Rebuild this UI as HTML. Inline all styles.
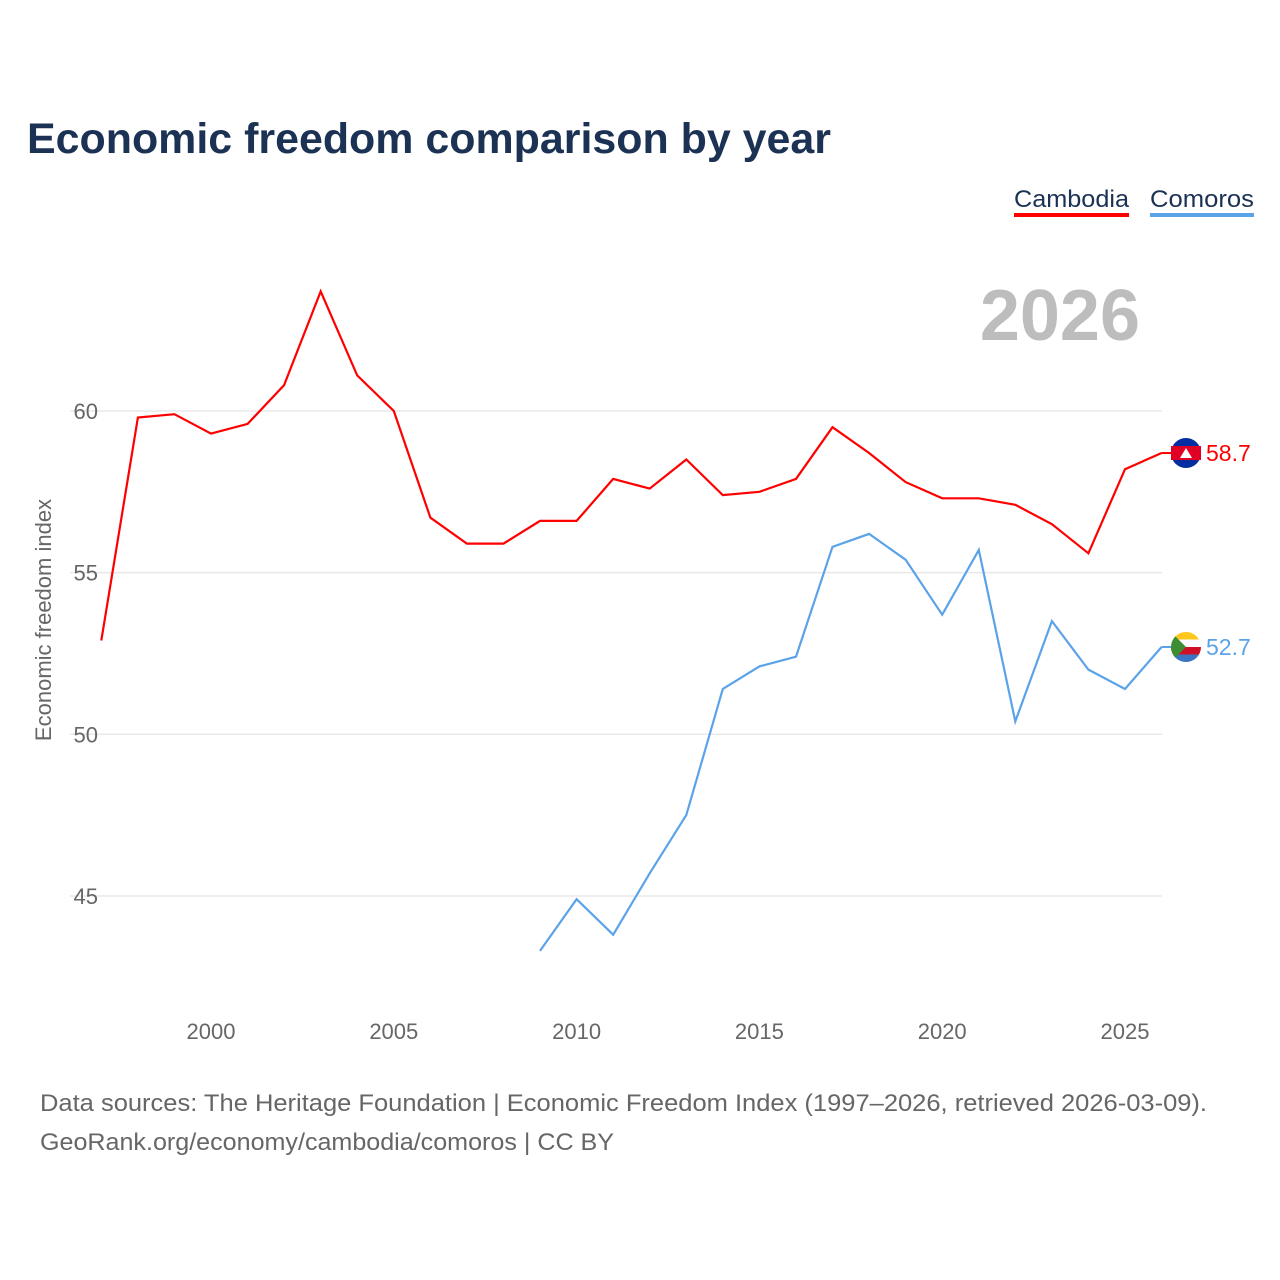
<!DOCTYPE html>
<html><head><meta charset="utf-8">
<style>
body{margin:0;background:#fff;font-family:"Liberation Sans",sans-serif;}
#wrap{position:relative;width:1280px;height:1280px;overflow:hidden;}
</style></head>
<body>
<div id="wrap">
<svg id="chart" width="1280" height="1280">
<text x="27" y="153" font-size="43" font-weight="bold" fill="#1b3254" textLength="804" lengthAdjust="spacingAndGlyphs">Economic freedom comparison by year</text>
<g><text x="1014" y="207" font-size="24" fill="#1b3254" textLength="115" lengthAdjust="spacingAndGlyphs">Cambodia</text><rect x="1014" y="213" width="115" height="4" fill="#f00"/></g>
<g><text x="1150" y="207" font-size="24" fill="#1b3254" textLength="104" lengthAdjust="spacingAndGlyphs">Comoros</text><rect x="1150" y="213" width="104" height="4" fill="#5ba3e8"/></g>
<text x="1140" y="340" text-anchor="end" font-size="72" font-weight="bold" fill="#bdbdbd">2026</text>
<text transform="translate(51,620) rotate(-90)" text-anchor="middle" font-size="22" fill="#666">Economic freedom index</text>
<g id="grid"></g><g id="xt"></g><g id="lines"></g>
<text x="40" y="1111" font-size="24" fill="#666" textLength="1167" lengthAdjust="spacingAndGlyphs">Data sources: The Heritage Foundation | Economic Freedom Index (1997–2026, retrieved 2026-03-09).</text>
<text x="40" y="1150" font-size="24" fill="#666" textLength="574" lengthAdjust="spacingAndGlyphs">GeoRank.org/economy/cambodia/comoros | CC BY</text>
</svg>
</div>
<script>
const years=[1997,1998,1999,2000,2001,2002,2003,2004,2005,2006,2007,2008,2009,2010,2011,2012,2013,2014,2015,2016,2017,2018,2019,2020,2021,2022,2023,2024,2025,2026];
const cambodia=[52.9,59.8,59.9,59.3,59.6,60.8,63.7,61.1,60.0,56.7,55.9,55.9,56.6,56.6,57.9,57.6,58.5,57.4,57.5,57.9,59.5,58.7,57.8,57.3,57.3,57.1,56.5,55.6,58.2,58.7];
const comoros=[null,null,null,null,null,null,null,null,null,null,null,null,43.3,44.9,43.8,45.7,47.5,51.4,52.1,52.4,55.8,56.2,55.4,53.7,55.7,50.4,53.5,52.0,51.4,52.7];
const yTicks=[45,50,55,60];
const xTicks=[2000,2005,2010,2015,2020,2025];
const NS="http://www.w3.org/2000/svg";
const X=y=>211+(y-2000)*36.56;
const Y=v=>411+(60-v)*32.33;
function mk(t,a,p){const e=document.createElementNS(NS,t);for(const k in a)e.setAttribute(k,a[k]);p.appendChild(e);return e;}
const grid=document.getElementById('grid');
yTicks.forEach(v=>{
 const l=mk('line',{x1:70,x2:1162,y1:Y(v),y2:Y(v),stroke:'#e8e8e8','stroke-width':1.5},grid);
 
 
 const t=mk('text',{x:98,y:Y(v)+8,'text-anchor':'end','font-size':22,fill:'#666'},grid);t.textContent=v;
 
 
});
const xt=document.getElementById('xt');
xTicks.forEach(v=>{
 const t=mk('text',{x:X(v),y:1039,'text-anchor':'middle','font-size':22,fill:'#666'},xt);t.textContent=v;
 
 
});
const lines=document.getElementById('lines');
function series(vals,col,name){
 let d='';vals.forEach((v,i)=>{if(v==null)return;d+=(d?'L':'M')+X(years[i]).toFixed(1)+','+Y(v).toFixed(1);});
 const p=mk('path',{d:d,fill:'none',stroke:col,'stroke-width':2.2},lines);
 
 
 const last=vals[vals.length-1],ly=Y(last);
 mk('line',{x1:X(2026),x2:1175,y1:ly,y2:ly,stroke:col,'stroke-width':2},lines);
 const t=mk('text',{x:1206,y:ly+8,'font-size':23,fill:col},lines);t.textContent=last.toFixed(1);
 
 
 return ly;
}
const cy=series(cambodia,'#f00','cambodia');
const my=series(comoros,'#5ba3e8','comoros');
let g=mk('g',{},lines);


mk('circle',{cx:1186,cy:cy,r:15,fill:'#032ea1'},g);
mk('rect',{x:1171,y:cy-7,width:30,height:14,fill:'#e00025'},g);
mk('path',{d:`M1180 ${cy+5}L1186 ${cy-5}L1192 ${cy+5}Z`,fill:'#fff'},g);
g=mk('g',{},lines);


const cp=mk('clipPath',{id:'cc'},g);
mk('circle',{cx:1186,cy:my,r:15},cp);
const gg=mk('g',{'clip-path':'url(#cc)'},g);
[['#ffc61e',0],['#fff',1],['#ce1126',2],['#3a75c4',3]].forEach(([c,i])=>mk('rect',{x:1171,y:my-15+i*7.5,width:30,height:7.5,fill:c},gg));
mk('path',{d:`M1171 ${my-15}L1186 ${my}L1171 ${my+15}Z`,fill:'#3d8e33'},gg);
</script>
</body></html>
